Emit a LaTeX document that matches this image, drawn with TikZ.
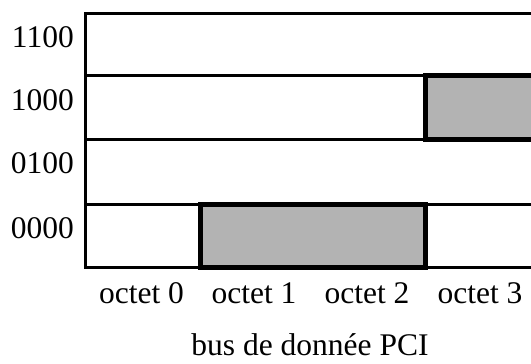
\documentclass[tikz,border=0pt]{standalone}
\usepackage{fontspec}
\setmainfont{Liberation Serif}
\definecolor{cellgray}{HTML}{B3B3B3}
\begin{document}
\begin{tikzpicture}[x=1pt, y=-1pt,
  gridline/.style={line width=3pt, line cap=rect},
  filled/.style={fill=cellgray, draw=black, line width=5pt},
  label text/.style={inner sep=0pt, font=\fontsize{31.5}{38}\selectfont},
  rowlabel/.style={label text, anchor=base east},
  collabel/.style={label text, anchor=base},
  caption/.style={label text, anchor=base}]
  \useasboundingbox (0,0) rectangle (531,364);
  \clip (0,0) rectangle (531,364);

  % horizontal lanes and the left edge of the bus
  \foreach \yy in {13.5,75.5,139,204,267}
    \draw[gridline] (85,\yy) -- (540,\yy);
  \draw[gridline] (85,13.5) -- (85,267);

  % active byte lanes
  \draw[filled] (425,75.5) rectangle (545,139);
  \draw[filled] (200,204) rectangle (425,267);

  % byte-enable codes
  \node[rowlabel] (r1100) at (74,47) {1100};
  \node[rowlabel] (r1000) at (74,110) {1000};
  \node[rowlabel] (r0100) at (74,173) {0100};
  \node[rowlabel] (r0000) at (74,238) {0000};

  % byte positions
  \node[collabel] (o0) at (141.5,303) {octet 0};
  \node[collabel] (o1) at (254,303) {octet 1};
  \node[collabel] (o2) at (367,303) {octet 2};
  \node[collabel] (o3) at (480,303) {octet 3};

  \node[caption] (bus) at (310,355) {bus de donnée PCI};
\end{tikzpicture}
\end{document}
